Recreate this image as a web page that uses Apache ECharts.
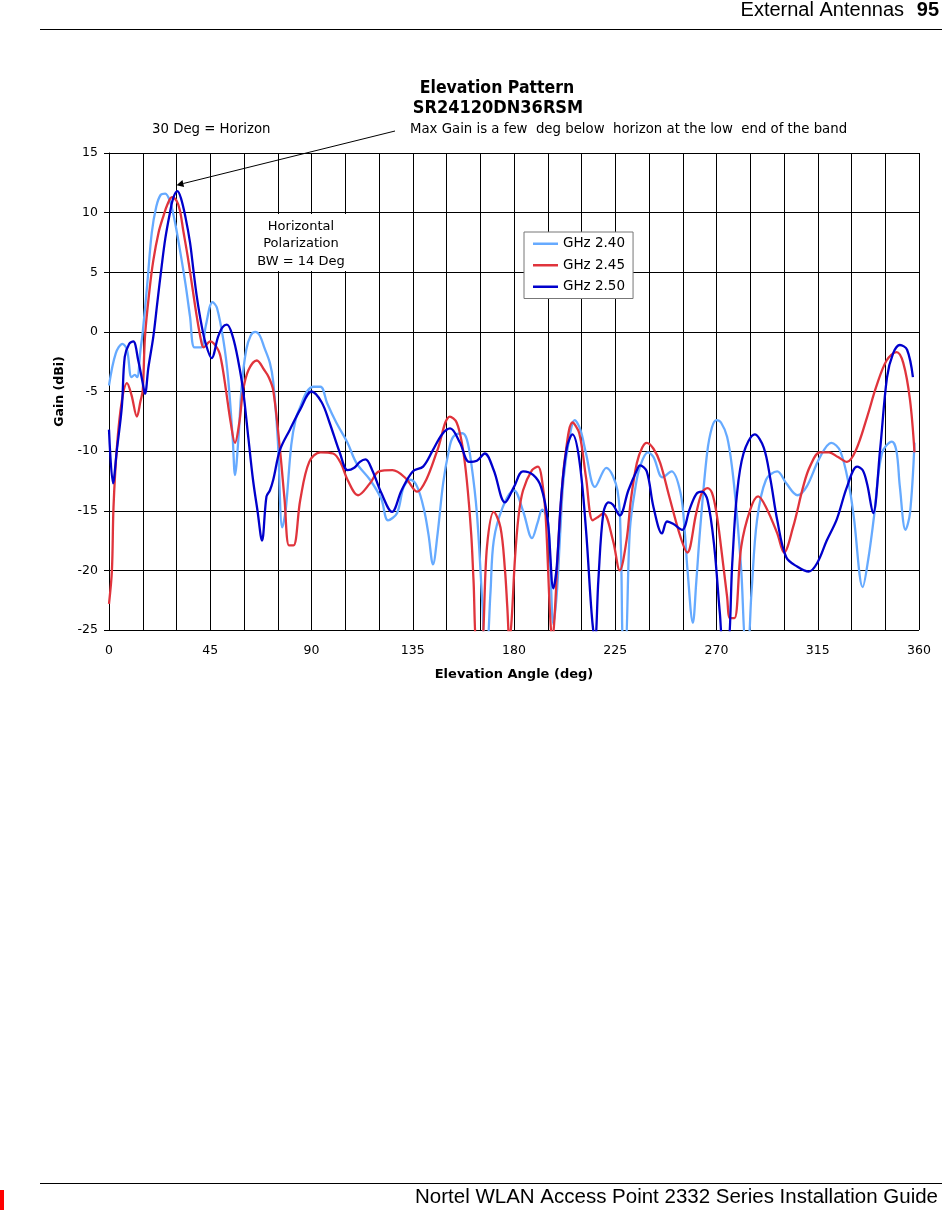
<!DOCTYPE html>
<html>
<head>
<meta charset="utf-8">
<script src="https://cdn.jsdelivr.net/npm/echarts@6/dist/echarts.min.js"></script>
<style>
html,body{margin:0;padding:0;background:#fff;}
#chart{width:942px;height:1213px;}
</style>
</head>
<body>
<div id="chart"></div>
<script>
// ---- data ----
const seriesNames = ['GHz 2.40', 'GHz 2.45', 'GHz 2.50'];
const xTicks = [0, 45, 90, 135, 180, 225, 270, 315, 360];
const yTicks = [-25, -20, -15, -10, -5, 0, 5, 10, 15];

const angles240 = [0,3,6,8,10,11.5,12.5,14,15,17,19,21,23,25,27,29,31.5,34,36,38,41,43,46,48,51,53,55,56,57.5,59,61,63,65,67,69,71.5,73,75,77,78.5,81,83,85,88,91,94,97,101,106,110,116,121,124,128,131,134,137,140,142,144,146,148.5,151,153,157,159,161,163.5,166,167,168,169.5,171,175,180,184,188,190.5,192.5,195,196,197.5,199,200.5,202,204.5,207,209.5,212,216,221,226,227.5,228.5,229.5,231.5,234,236,239.5,242,246,250,254,256,257,259.5,261,262.7,265.8,268,270,272,274.7,277,279,281,283,284,285.5,288,292,297,301,306,310,316,321,325,329,331,335,337.5,340,343.5,348,350,351.5,354,356,358];
const gain240 = [-4.5,-1.8,-1.0,-1.5,-3.8,-3.6,-3.8,-1.5,0,4,8.3,10.5,11.5,11.6,11.0,9.5,6.9,4,1.3,-1.3,-1.3,0.5,2.5,2,-0.9,-4,-9,-12,-9,-4.5,-1.5,-0.3,0,-0.3,-1.3,-2.6,-4.2,-9,-16.4,-15,-9.5,-7.3,-6.3,-5,-4.6,-4.6,-6,-7.6,-9.3,-11,-12.4,-14,-15.8,-15.2,-13,-12.4,-13,-14.9,-17,-19.5,-17,-12.7,-10,-8.8,-8.5,-9,-11,-15.2,-23,-26,-26,-22,-17.5,-14.7,-13.3,-15,-17.3,-16,-14.9,-15.8,-19,-24.5,-22,-17,-12.4,-9,-7.4,-8.2,-10.2,-13,-11.4,-13.3,-18,-26,-26,-16.6,-13,-11.3,-10.1,-10.5,-12.2,-11.7,-13.5,-17,-19.7,-24.4,-21,-16.6,-10.2,-8,-7.4,-7.6,-8.8,-11.5,-15.2,-20,-26,-26,-22,-15.8,-12.4,-11.7,-12.7,-13.7,-13,-10.5,-9.3,-10,-13,-15.5,-21.4,-19,-15.5,-10.2,-9.2,-10,-13,-16.6,-15.2,-9.3];

const angles245 = [0,1.3,2,3.5,5.7,8,10,12.4,14,15,16,18,19.7,22,24,26,28,30,31.5,33,35,37,39,41,42,45,48.5,50,52,54,56,58,59.6,62,65.7,69,71,73,76,78,80,82,85,89,94,99.6,103,106,110.7,116,120,126,132,137,141,146,151.5,154.5,157,159,161,162,163.5,165.5,168,171,174,176,177,178,179,180.4,182,184,188,190.7,192.5,194,196,197,198,199.6,201,202.7,206,209,212,215,217.5,219.7,224,227,230,232,234.6,237,239,242,245,249,254,257,261,263.5,266,268,270,272,274.7,276,278,281,285,288.5,292,297,300,304,308.5,311.5,316,320,324,328,332,337,341,345.6,350,353,356,358];
const gain245 = [-22.8,-20,-14.7,-9.7,-5.8,-4.3,-5.3,-7.1,-5.8,-4.9,-0.4,3.5,6,8.3,9.6,10.7,11.3,11,10.2,8.5,6.3,3.8,1.3,-0.8,-1.3,-0.8,-1.5,-2.5,-4.9,-7.5,-9.3,-7.5,-4.9,-3.2,-2.4,-3.2,-3.8,-4.9,-9.9,-14,-17.9,-17.9,-14.1,-10.9,-10.1,-10.2,-11,-12.4,-13.7,-12.7,-11.7,-11.6,-12.3,-13.4,-12.4,-9.9,-7.1,-7.6,-9.5,-12.4,-17,-20.8,-26,-26,-18,-15.1,-16.4,-20,-23,-26,-24,-19.1,-15.5,-13.3,-11.6,-11.3,-12.5,-15.2,-23.6,-26,-24,-18,-14,-10.5,-7.6,-8.5,-12.2,-15.8,-15.5,-15.2,-17.5,-20,-17.5,-14,-11,-9.7,-9.3,-9.8,-11,-13.8,-17.2,-18.5,-15.2,-13.5,-13.1,-13.5,-15.2,-18,-22.2,-24,-24,-18,-14.9,-13.8,-14.7,-16.9,-18.5,-16.4,-13,-11.3,-10.1,-10.1,-10.5,-10.9,-9.9,-7.1,-4.6,-2.4,-1.7,-2.6,-5.7,-10.1];

const angles250 = [0,1.8,3.5,5.7,7,9,10.8,13,15,16,17.5,19.7,21.5,23.4,25,27,28.5,30.4,32,34,36,37.5,39,41,43,45.6,48.5,50.5,52.4,55,57.5,59.6,62,64,66,68,70,71.5,73,76,80.4,85,90,94.5,98,102.7,106,109,111.5,114,117,121,125.8,130,135,139.6,144,148,151.6,156,160,163.5,167,171,176,180,184,188.5,192,195,197.5,199,201,203.5,206,209,212,214.5,216,217.5,219.7,222,224,227,230.8,234.6,236,239,242,245.8,248,250.7,254.7,258,261,263.5,266,269,271.5,273,275,277,279,282,287,291,294,297,301,306,311,314.7,319,323.5,328,332.5,335,337,339.6,342.7,345.8,348.5,351.5,354.7,357.3];
const gain250 = [-8.2,-12.7,-9.9,-6.3,-2.1,-1.0,-0.8,-2.4,-4.3,-5.2,-3,-0.4,2.5,5.5,7.8,9.9,11.2,11.8,11.2,9.6,7.5,5.2,3,0.7,-1,-2.2,-0.4,0.4,0.6,-0.4,-2.5,-4.9,-9,-12.4,-15,-17.5,-13.8,-13.3,-12.4,-9.9,-8.2,-6.5,-5,-5.9,-7.6,-10.2,-11.6,-11.4,-10.9,-10.7,-11.6,-13.5,-15.1,-13.3,-11.7,-11.3,-9.9,-8.6,-8.1,-9.3,-10.9,-10.8,-10.2,-11.6,-14.3,-13,-11.7,-12,-13,-15.8,-21.5,-19.7,-13.8,-9.7,-8.6,-10.7,-16.6,-23.6,-26,-20.8,-15.2,-14.3,-14.5,-15.4,-13.3,-11.6,-11.2,-11.7,-14.7,-16.9,-15.9,-16.1,-16.6,-14.9,-13.6,-13.4,-14.1,-18,-23.6,-26,-26,-19.4,-13.8,-10.2,-8.6,-9.7,-12.4,-15.8,-18.9,-19.7,-20.1,-19.4,-17.5,-15.7,-13,-11.3,-11.6,-12.8,-15.2,-9.9,-3.8,-1.8,-1.1,-1.5,-3.8];

const colors = ['#66aaff', '#e0343c', '#0000cc'];

function pairs(a, g) { return a.map((x, i) => [x, g[i]]); }

const chart = echarts.init(document.getElementById('chart'), null, {renderer: 'canvas'});
const tickFont = 'DejaVu Sans';

const option = {
  animation: false,
  backgroundColor: '#fff',
  grid: {left: 109, top: 153, width: 810, height: 477, containLabel: false},
  legend: {
    data: seriesNames.map(n => ({name: n, icon: 'rect'})),
    orient: 'vertical',
    left: 524, top: 232,
    padding: [4, 8, 4, 9],
    itemWidth: 25, itemHeight: 2.5, itemGap: 6,
    borderColor: '#777', borderWidth: 1, backgroundColor: '#fff',
    textStyle: {fontFamily: 'DejaVu Sans', fontSize: 13.5, color: '#000', lineHeight: 15.5}
  },
  xAxis: {
    type: 'value', min: 0, max: 360, interval: 15,
    axisLine: {show: true, lineStyle: {color: '#000', width: 1}},
    axisTick: {show: true, length: 5, lineStyle: {color: '#000'}},
    axisLabel: {
      formatter: v => (xTicks.indexOf(v) >= 0 ? String(v) : ''),
      fontFamily: tickFont, fontSize: 12.5, color: '#000', margin: 14
    },
    splitLine: {show: true, lineStyle: {color: '#000', width: 1}},
    name: 'Elevation Angle (deg)', nameLocation: 'middle', nameGap: 38,
    nameTextStyle: {fontFamily: tickFont, fontWeight: 'bold', fontSize: 13, color: '#000'}
  },
  yAxis: {
    type: 'value', min: yTicks[0], max: yTicks[yTicks.length - 1], interval: 5,
    axisLine: {show: true, lineStyle: {color: '#000', width: 1}},
    axisTick: {show: true, length: 5, lineStyle: {color: '#000'}},
    axisLabel: {fontFamily: tickFont, fontSize: 12.5, color: '#000', margin: 11},
    splitLine: {show: true, lineStyle: {color: '#000', width: 1}},
    name: 'Gain (dBi)', nameLocation: 'middle', nameGap: 40, nameRotate: 90,
    nameTextStyle: {fontFamily: tickFont, fontWeight: 'bold', fontSize: 12.5, color: '#000'}
  },
  series: [
    {name: seriesNames[0], type: 'line', data: pairs(angles240, gain240), symbol: 'none', smooth: 0.35, clip: true,
     lineStyle: {color: colors[0], width: 2.3}, itemStyle: {color: colors[0]}, z: 2},
    {name: seriesNames[1], type: 'line', data: pairs(angles245, gain245), symbol: 'none', smooth: 0.35, clip: true,
     lineStyle: {color: colors[1], width: 2.3}, itemStyle: {color: colors[1]}, z: 3},
    {name: seriesNames[2], type: 'line', data: pairs(angles250, gain250), symbol: 'none', smooth: 0.35, clip: true,
     lineStyle: {color: colors[2], width: 2.3}, itemStyle: {color: colors[2]}, z: 4}
  ]
};
chart.setOption(option);

// arrow tip at the main-lobe peak near the horizon (30 deg)
const tip = chart.convertToPixel({xAxisIndex: 0, yAxisIndex: 0}, [30, 12.3]);
const start = [395, 131];
const ang = Math.atan2(start[1] - tip[1], start[0] - tip[0]);
const ah = 7, aw = 3.5;
const bx = tip[0] + ah * Math.cos(ang), by = tip[1] + ah * Math.sin(ang);
const arrowPts = [
  [tip[0], tip[1]],
  [bx + aw * Math.sin(ang), by - aw * Math.cos(ang)],
  [bx - aw * Math.sin(ang), by + aw * Math.cos(ang)]
];

const headerFont = 'Liberation Sans';
chart.setOption({
  graphic: [
    {type: 'text', right: 38, top: 0, z: 10,
     style: {text: 'External Antennas', font: '20px "' + headerFont + '"', fill: '#000'}},
    {type: 'text', right: 3, top: 0, z: 10,
     style: {text: '95', font: 'bold 20px "' + headerFont + '"', fill: '#000'}},
    {type: 'line', z: 10, shape: {x1: 40, y1: 29.5, x2: 942, y2: 29.5}, style: {stroke: '#000', lineWidth: 1}},
    {type: 'line', z: 10, shape: {x1: 40, y1: 1183.5, x2: 942, y2: 1183.5}, style: {stroke: '#000', lineWidth: 1}},
    {type: 'text', right: 4, top: 1187, z: 10,
     style: {text: 'Nortel WLAN Access Point 2332 Series Installation Guide', font: '20.5px "' + headerFont + '"', fill: '#000'}},
    {type: 'rect', z: 10, shape: {x: 0, y: 1190, width: 4, height: 20}, style: {fill: '#ff0000'}},

    {type: 'text', z: 10, x: 497, y: 88,
     style: {text: 'Elevation Pattern', font: 'bold 17.5px "DejaVu Sans Condensed"', fill: '#000', align: 'center', verticalAlign: 'middle'}},
    {type: 'text', z: 10, x: 498, y: 108,
     style: {text: 'SR24120DN36RSM', font: 'bold 18px "DejaVu Sans Condensed"', fill: '#000', align: 'center', verticalAlign: 'middle'}},
    {type: 'text', z: 10, x: 152, y: 130,
     style: {text: '30 Deg = Horizon', font: '13.3px "DejaVu Sans"', fill: '#000', verticalAlign: 'middle'}},
    {type: 'text', z: 10, x: 410, y: 130,
     style: {text: 'Max Gain is a few  deg below  horizon at the low  end of the band', font: '13.3px "DejaVu Sans"', fill: '#000', verticalAlign: 'middle'}},

    {type: 'line', z: 10, shape: {x1: start[0], y1: start[1], x2: bx, y2: by}, style: {stroke: '#000', lineWidth: 1}},
    {type: 'polygon', z: 10, shape: {points: arrowPts}, style: {fill: '#000'}},

    {type: 'rect', z: 1, shape: {x: 250, y: 214, width: 102, height: 57}, style: {fill: '#fff'}},
    {type: 'text', z: 10, x: 301, y: 227,
     style: {text: 'Horizontal', font: '13px "DejaVu Sans"', fill: '#000', align: 'center', verticalAlign: 'middle'}},
    {type: 'text', z: 10, x: 301, y: 244,
     style: {text: 'Polarization', font: '13px "DejaVu Sans"', fill: '#000', align: 'center', verticalAlign: 'middle'}},
    {type: 'text', z: 10, x: 301, y: 262,
     style: {text: 'BW = 14 Deg', font: '13px "DejaVu Sans"', fill: '#000', align: 'center', verticalAlign: 'middle'}}
  ]
});
</script>
</body>
</html>
